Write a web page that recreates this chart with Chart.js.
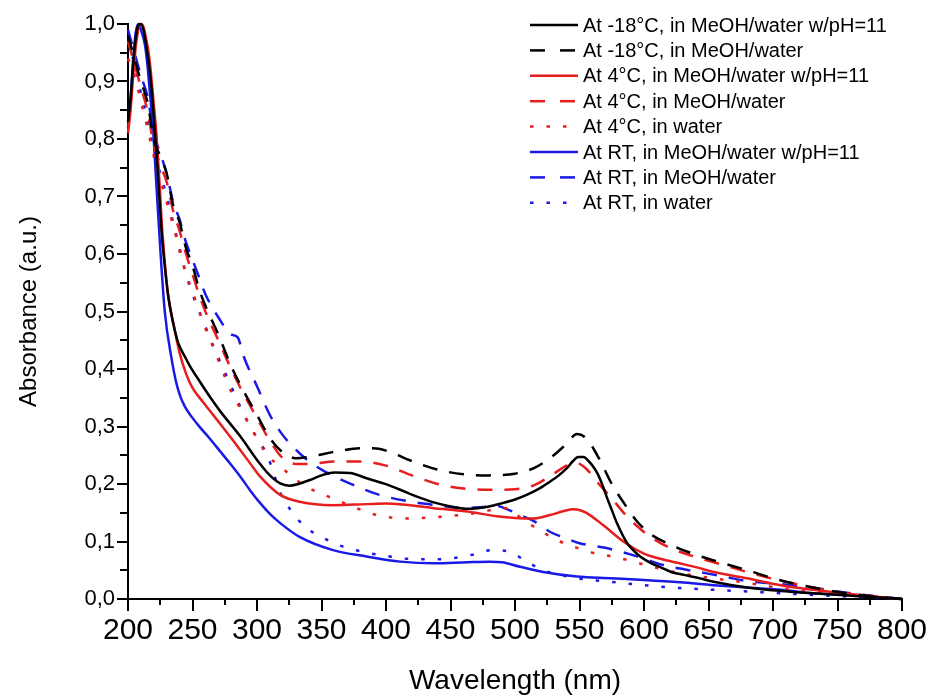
<!DOCTYPE html>
<html>
<head>
<meta charset="utf-8">
<script src="https://cdn.jsdelivr.net/npm/chart.js@4.4.1/dist/chart.umd.min.js"></script>
<style>
  html, body { margin: 0; padding: 0; background: #fff; }
  #wrap { width: 929px; height: 695px; }
</style>
</head>
<body>
<div id="wrap"><canvas id="chart" width="929" height="695"></canvas></div>
<script>
// [wavelength nm, absorbance]
const m18Ph11 = [[200,0.83],[202,0.87],[204,0.93],[206,0.975],[208,0.998],[210,1.0],[212,0.99],[214,0.965],[216,0.935],[218,0.895],[220,0.84],[222,0.78],[224,0.71],[226,0.64],[228,0.59],[231,0.53],[235,0.48],[239,0.445],[244,0.422],[248,0.405],[256,0.377],[264,0.35],[272,0.325],[287,0.283],[302,0.236],[310,0.215],[318,0.201],[325,0.197],[332,0.2],[341,0.207],[350,0.215],[360,0.22],[372,0.219],[385,0.21],[398,0.201],[411,0.19],[424,0.178],[437,0.168],[450,0.161],[462,0.157],[471,0.158],[480,0.161],[489,0.166],[500,0.173],[509,0.181],[518,0.191],[527,0.204],[534,0.215],[540,0.227],[545,0.24],[549,0.247],[553,0.247],[557,0.24],[560,0.232],[564,0.218],[568,0.197],[571,0.178],[575,0.155],[579,0.132],[583,0.113],[587,0.097],[592,0.084],[597,0.074],[605,0.063],[613,0.055],[621,0.047],[631,0.042],[643,0.036],[654,0.03],[680,0.02],[706,0.014],[731,0.01],[758,0.006],[780,0.003],[800,0.0]];
const m18Mix = [[200,0.98],[205,0.94],[210,0.9],[215,0.865],[220,0.8],[225,0.77],[230,0.74],[235,0.685],[240,0.655],[245,0.61],[250,0.58],[255,0.54],[260,0.51],[270,0.46],[280,0.405],[290,0.36],[300,0.32],[310,0.28],[320,0.255],[330,0.245],[340,0.247],[360,0.256],[380,0.262],[390,0.262],[400,0.258],[420,0.24],[440,0.225],[460,0.217],[480,0.215],[500,0.218],[515,0.228],[530,0.25],[540,0.27],[548,0.287],[555,0.28],[565,0.245],[575,0.2],[585,0.165],[595,0.134],[605,0.113],[620,0.095],[640,0.077],[660,0.063],[680,0.05],[700,0.036],[720,0.025],[740,0.016],[760,0.009],[780,0.004],[800,0.0]];
const p4Ph11 = [[200,0.81],[202,0.85],[204,0.91],[206,0.96],[208,0.99],[210,1.0],[212,0.995],[214,0.975],[216,0.95],[218,0.91],[220,0.86],[222,0.81],[224,0.74],[226,0.66],[228,0.6],[231,0.53],[236,0.47],[240,0.428],[245,0.392],[250,0.367],[258,0.343],[265,0.323],[272,0.303],[280,0.28],[287,0.259],[295,0.235],[302,0.214],[318,0.181],[333,0.169],[359,0.163],[385,0.165],[400,0.166],[437,0.158],[463,0.152],[486,0.144],[500,0.141],[514,0.14],[527,0.146],[538,0.153],[545,0.156],[551,0.154],[556,0.149],[568,0.129],[584,0.1],[600,0.079],[620,0.066],[641,0.055],[654,0.047],[680,0.036],[706,0.024],[731,0.016],[758,0.009],[780,0.004],[800,0.0]];
const p4Mix = [[200,0.97],[205,0.93],[210,0.89],[215,0.85],[220,0.79],[225,0.755],[230,0.725],[235,0.675],[240,0.64],[245,0.6],[250,0.565],[255,0.53],[260,0.5],[270,0.45],[280,0.4],[290,0.355],[300,0.315],[310,0.275],[320,0.245],[330,0.235],[340,0.235],[360,0.239],[380,0.239],[400,0.232],[420,0.215],[440,0.2],[460,0.192],[480,0.19],[500,0.191],[515,0.198],[530,0.218],[540,0.232],[547,0.237],[555,0.227],[565,0.2],[575,0.175],[585,0.148],[595,0.126],[605,0.108],[620,0.089],[640,0.073],[660,0.06],[680,0.047],[700,0.035],[720,0.025],[740,0.016],[760,0.009],[780,0.004],[800,0.0]];
const p4Water = [[200,0.94],[205,0.91],[210,0.865],[215,0.82],[220,0.77],[225,0.73],[230,0.69],[235,0.65],[240,0.605],[245,0.565],[250,0.535],[258,0.482],[268,0.427],[279,0.366],[293,0.308],[305,0.26],[315,0.235],[323,0.221],[336,0.198],[350,0.183],[362,0.172],[375,0.16],[388,0.149],[400,0.143],[416,0.14],[442,0.143],[468,0.149],[494,0.158],[505,0.14],[521,0.117],[535,0.1],[548,0.089],[561,0.08],[575,0.074],[587,0.068],[603,0.058],[628,0.045],[654,0.036],[680,0.028],[706,0.019],[731,0.013],[758,0.008],[780,0.004],[800,0.0]];
const rtPh11 = [[200,0.82],[202,0.87],[204,0.94],[206,0.985],[208,1.0],[210,0.99],[213,0.965],[215,0.93],[217,0.88],[219.5,0.815],[222,0.72],[225,0.61],[228.5,0.5],[234,0.415],[237,0.38],[240,0.356],[244,0.335],[250,0.315],[256,0.298],[263,0.28],[271,0.258],[279,0.236],[287,0.213],[295,0.188],[302,0.168],[310,0.148],[318,0.132],[333,0.108],[359,0.085],[385,0.074],[411,0.065],[437,0.062],[463,0.064],[480,0.065],[490,0.064],[504,0.056],[522,0.047],[548,0.039],[574,0.036],[600,0.033],[628,0.029],[654,0.024],[680,0.02],[706,0.016],[731,0.01],[758,0.007],[780,0.003],[800,0.0]];
const rtMix = [[200,0.99],[205,0.95],[210,0.91],[215,0.875],[220,0.81],[225,0.775],[230,0.74],[235,0.69],[240,0.66],[245,0.62],[250,0.59],[255,0.56],[260,0.53],[270,0.49],[280,0.46],[285,0.455],[290,0.42],[300,0.37],[310,0.32],[320,0.285],[330,0.26],[340,0.24],[350,0.225],[360,0.213],[375,0.198],[395,0.181],[420,0.169],[440,0.163],[460,0.158],[475,0.16],[485,0.162],[495,0.155],[505,0.145],[515,0.135],[527,0.117],[540,0.105],[550,0.097],[570,0.089],[595,0.074],[615,0.059],[640,0.048],[660,0.04],[680,0.031],[700,0.027],[730,0.02],[750,0.013],[775,0.006],[800,0.0]];
const rtWater = [[200,0.97],[205,0.93],[210,0.88],[215,0.835],[220,0.78],[225,0.74],[230,0.7],[235,0.655],[240,0.61],[245,0.565],[250,0.53],[258,0.485],[268,0.43],[280,0.37],[290,0.32],[300,0.28],[308,0.25],[312,0.225],[318,0.185],[326,0.155],[337,0.126],[350,0.108],[363,0.094],[380,0.083],[400,0.075],[416,0.07],[442,0.069],[467,0.077],[482,0.085],[496,0.082],[509,0.065],[522,0.05],[535,0.042],[548,0.036],[574,0.03],[600,0.024],[628,0.019],[654,0.016],[680,0.013],[706,0.01],[731,0.007],[760,0.004],[800,0.0]];

const seriesLabels = [
  'At -18°C, in MeOH/water w/pH=11',
  'At -18°C, in MeOH/water',
  'At 4°C, in MeOH/water w/pH=11',
  'At 4°C, in MeOH/water',
  'At 4°C, in water',
  'At RT, in MeOH/water w/pH=11',
  'At RT, in MeOH/water',
  'At RT, in water'
];
const seriesData = [m18Ph11, m18Mix, p4Ph11, p4Mix, p4Water, rtPh11, rtMix, rtWater];

const BLACK = '#000000', RED = '#e81e1e', BLUE = '#1a1ae6';
const colors = [BLACK, BLACK, RED, RED, RED, BLUE, BLUE, BLUE];
const SOLID = [], DASH = [15, 12], DOT = [3.5, 13];
const dashes = [SOLID, DASH, SOLID, DASH, DOT, SOLID, DASH, DOT];

const FONT = "'Liberation Sans', Arial, sans-serif";

// tick marks and legend drawn by hand, like the original Origin plot
const extras = {
  id: 'extras',
  afterDraw(chart) {
    const ctx = chart.ctx;
    const xs = chart.scales.x, ys = chart.scales.y;
    const area = chart.chartArea;
    ctx.save();
    ctx.strokeStyle = '#000';
    ctx.lineWidth = 2;
    for (let v = 200; v <= 800; v += 25) {
      const px = Math.round(xs.getPixelForValue(v));
      const len = v % 50 === 0 ? 12 : 6;
      ctx.beginPath();
      ctx.moveTo(px, area.bottom);
      ctx.lineTo(px, area.bottom + len);
      ctx.stroke();
    }
    for (let i = 0; i <= 20; i++) {
      const py = Math.round(ys.getPixelForValue(i * 0.05));
      const len = i % 2 === 0 ? 11 : 8;
      ctx.beginPath();
      ctx.moveTo(area.left, py);
      ctx.lineTo(area.left - len, py);
      ctx.stroke();
    }

    // legend
    ctx.font = '20px ' + FONT;
    ctx.textBaseline = 'middle';
    ctx.fillStyle = '#000';
    chart.data.datasets.forEach((ds, i) => {
      const y = 25 + i * 25.4;
      ctx.strokeStyle = ds.borderColor;
      ctx.lineWidth = ds.borderWidth;
      ctx.setLineDash(ds.borderDash.length ? (ds.borderDash === DOT ? [3.5, 13] : [15, 15]) : []);
      ctx.beginPath();
      ctx.moveTo(530, y);
      ctx.lineTo(578, y);
      ctx.stroke();
      ctx.setLineDash([]);
      ctx.fillText(ds.label, 583, y + 1);
    });
    ctx.restore();
  }
};

new Chart(document.getElementById('chart'), {
  type: 'line',
  data: {
    datasets: seriesData.map((d, i) => ({
      label: seriesLabels[i],
      data: d.map(p => ({ x: p[0], y: p[1] })),
      borderColor: colors[i],
      borderWidth: 2.5,
      borderDash: dashes[i],
      pointRadius: 0,
      fill: false,
      cubicInterpolationMode: 'monotone',
      clip: false
    }))
  },
  options: {
    responsive: false,
    animation: false,
    layout: { padding: { top: 24, right: 27, left: 0, bottom: 0 } },
    plugins: { legend: { display: false }, tooltip: { enabled: false } },
    scales: {
      x: {
        type: 'linear',
        min: 200,
        max: 800,
        afterFit: s => { s.height = 96; s.paddingLeft = 0; s.paddingRight = 0; },
        grid: { display: false, drawTicks: false },
        border: { display: true, color: '#000', width: 2 },
        ticks: { stepSize: 50, padding: 14, color: '#000', font: { family: FONT, size: 30 }, maxRotation: 0 },
        title: { display: true, text: 'Wavelength (nm)', color: '#000', font: { family: FONT, size: 28, lineHeight: 1.0 }, padding: { top: 0, bottom: 0 } }
      },
      y: {
        min: 0,
        max: 1.0,
        afterFit: s => { s.width = 128; s.paddingTop = 0; s.paddingBottom = 0; },
        grid: { display: false, drawTicks: false },
        border: { display: true, color: '#000', width: 2 },
        ticks: {
          stepSize: 0.1, padding: 13, color: '#000', font: { family: FONT, size: 22 },
          callback: v => v.toFixed(1).replace('.', ',')
        },
        title: { display: true, text: 'Absorbance (a.u.)', color: '#000', font: { family: FONT, size: 24, lineHeight: 1.2 }, padding: { top: 15, bottom: 0 } }
      }
    }
  },
  plugins: [extras]
});
</script>
</body>
</html>
